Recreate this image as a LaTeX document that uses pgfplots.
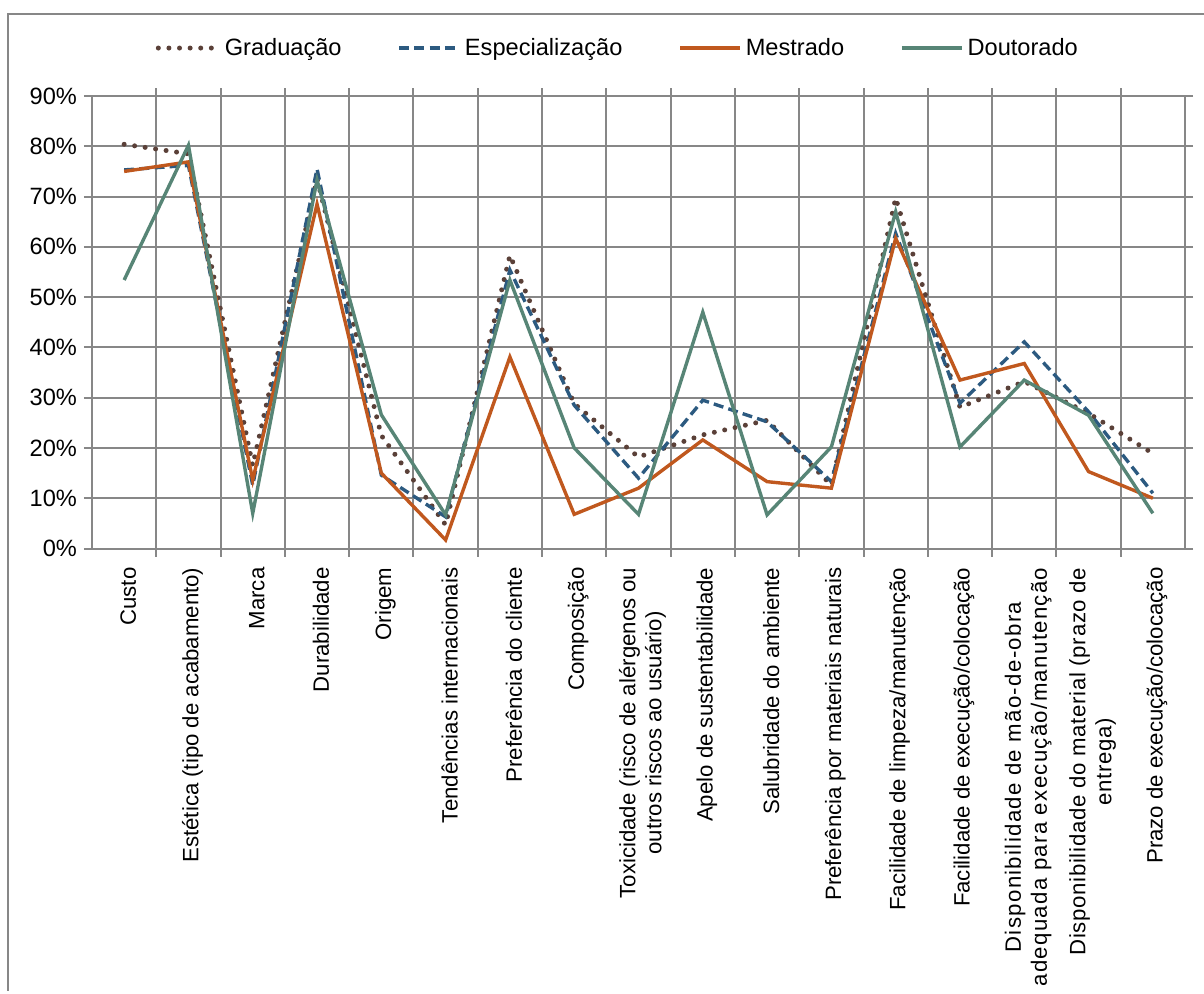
\documentclass[border=0pt]{standalone}
\usepackage{pgfplots}
\pgfplotsset{compat=1.18}
\usepackage{pgfplotstable}
\usepackage{fontspec}
\setmainfont{Liberation Sans}

\definecolor{gradc}{RGB}{90,64,56}
\definecolor{espc}{RGB}{44,90,128}
\definecolor{mesc}{RGB}{192,88,30}
\definecolor{douc}{RGB}{87,133,118}
\definecolor{gridc}{RGB}{135,135,135}

% share (%) of respondents per criterion and level of education
\pgfplotstableread{
x  grad  esp   mes   dou
0  80.4  75.3  75.0  53.4
1  78.5  76.2  76.9  80.2
2  16.5  12.6  13.6   7.0
3  73.5  75.5  68.5  73.3
4  22.5  14.6  15.0  26.6
5   4.7   6.3   1.7   6.7
6  58.3  55.4  38.1  53.4
7  28.8  28.5   6.8  20.0
8  18.2  14.0  12.0   6.8
9  22.6  29.5  21.6  47.0
10 25.5  25.2  13.3   6.7
11 12.6  13.3  12.0  20.2
12 69.7  62.7  61.7  67.0
13 28.1  28.9  33.5  20.2
14 33.2  41.1  36.8  33.5
15 26.9  27.2  15.3  26.5
16 18.9  11.0  10.0   7.0
}\data

\begin{document}
\begin{tikzpicture}[font=\fontsize{11.8}{13}\selectfont]
\begin{axis}[
  name=ax, at={(0,0)}, anchor=south west,
  scale only axis, width=546.5pt, height=226.25pt,
  xmin=-0.5, xmax=16.5, ymin=0, ymax=90,
  xtick={0,...,16},
  minor xtick={0.5,1.5,...,15.5},
  ytick={0,10,...,90},
  yticklabel={\pgfmathprintnumber{\tick}\%},
  /pgf/number format/assume math mode=true,
  xticklabels={
    Custo,
    Estética (tipo de acabamento),
    Marca,
    Durabilidade,
    Origem,
    Tendências internacionais,
    Preferência do cliente,
    Composição,
    {Toxicidade (risco de alérgenos ou\\outros riscos ao usuário)},
    Apelo de sustentabilidade,
    Salubridade do ambiente,
    Preferência por materiais naturais,
    Facilidade de limpeza/manutenção,
    Facilidade de execução/colocação,
    {\addfontfeatures{LetterSpace=6}Disponibilidade de mão-de-obra\\
     \addfontfeatures{LetterSpace=6}adequada para execução/manutenção},
    {\addfontfeatures{LetterSpace=3}Disponibilidade do material (prazo de\\
     \addfontfeatures{LetterSpace=3}entrega)},
    Prazo de execução/colocação
  },
  xticklabel style={font=\fontsize{11.1}{13}\selectfont,
    yshift=-2pt, xshift=2pt, rotate=90, anchor=east, align=center},
  tick align=outside,
  major x tick style={draw=none},
  minor x tick style={gridc, line width=1pt},
  major y tick style={gridc, line width=1pt},
  major tick length=4pt, minor tick length=4pt,
  xminorgrids=true, ymajorgrids=true, xmajorgrids=false,
  grid style={gridc, line width=1pt},
  minor grid style={gridc, line width=1pt},
  axis line style={gridc, line width=1pt},
  legend columns=4,
  legend style={at={(0.482,1.106)}, anchor=center, draw=none, fill=none,
    /tikz/every even column/.append style={column sep=26pt}},
  legend image code/.code={\draw[#1] (0pt,0pt) -- (30pt,0pt);},
]
\addplot[gradc, line width=2.5pt, line cap=round, dash pattern=on 0pt off 5.3pt] table[x=x, y=grad] {\data};
\addlegendentry{Graduação}
\addplot[espc, line width=1.7pt, dash pattern=on 5pt off 2.6pt] table[x=x, y=esp] {\data};
\addlegendentry{Especialização}
\addplot[mesc, line width=1.7pt] table[x=x, y=mes] {\data};
\addlegendentry{Mestrado}
\addplot[douc, line width=1.7pt] table[x=x, y=dou] {\data};
\addlegendentry{Doutorado}
\end{axis}
\path[use as bounding box] (-46pt,-220.25pt) rectangle (556pt,274.25pt);
\draw[gridc, line width=1pt] (-42pt,-221pt) -- (-42pt,267.25pt) -- (557pt,267.25pt);
\end{tikzpicture}
\end{document}
